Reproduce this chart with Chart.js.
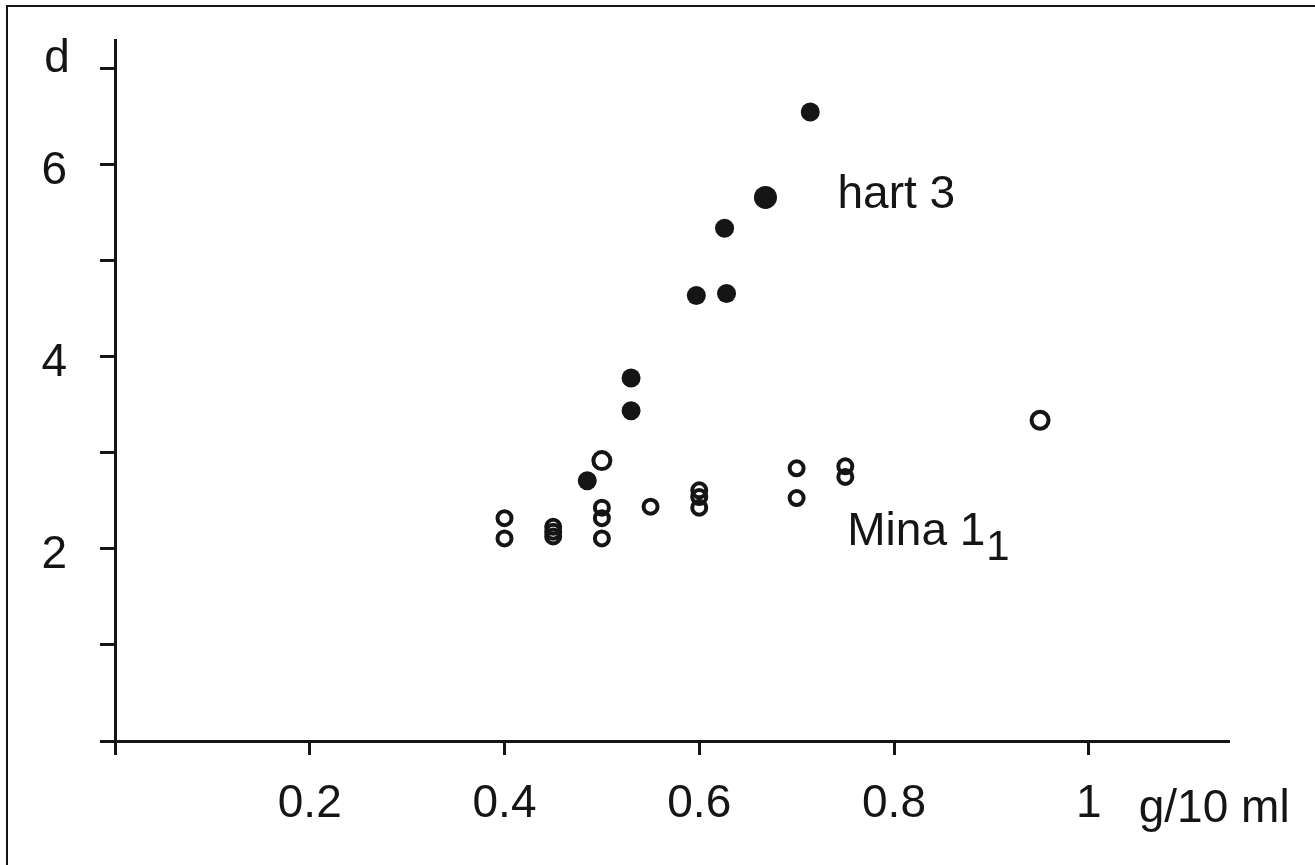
<!DOCTYPE html>
<html>
<head>
<meta charset="utf-8">
<script src="https://cdn.jsdelivr.net/npm/chart.js@4"></script>
<style>
  html, body { margin: 0; padding: 0; background: #fff; }
  #wrap { width: 1315px; height: 865px; position: relative; }
</style>
</head>
<body>
<div id="wrap"><canvas id="chart" width="1315" height="865"></canvas></div>
<script>
// ==================== DATA ====================
// hart 3 (filled circles)
const hartX = [0.485, 0.53, 0.53, 0.597, 0.628, 0.626, 0.668, 0.714];
const hartY = [2.71, 3.44, 3.78, 4.64, 4.66, 5.34, 5.66, 6.55];

// Mina 1_1 (open circles)
const minaX = [0.40, 0.40, 0.45, 0.45, 0.45, 0.50, 0.50, 0.50, 0.50, 0.55, 0.60, 0.60, 0.60, 0.70, 0.70, 0.75, 0.75, 0.95];
const minaY = [2.32, 2.11, 2.23, 2.18, 2.13, 2.92, 2.43, 2.32, 2.11, 2.44, 2.61, 2.54, 2.43, 2.84, 2.53, 2.86, 2.75, 3.34];

const yTickLabels = ['2', '4', '6'];
const xTickLabels = ['0.2', '0.4', '0.6', '0.8', '1'];

const FONT = '"Liberation Sans", Arial, sans-serif';
const INK = '#151515';

const toPoints = (xs, ys) => xs.map((x, i) => ({ x: x, y: ys[i] }));

// frame + free text labels
const annotations = {
  id: 'annotations',
  afterDraw(chart) {
    const { ctx, scales: { x, y } } = chart;
    ctx.save();
    // scanned page frame (left + top)
    ctx.strokeStyle = INK;
    ctx.lineWidth = 2;
    ctx.beginPath();
    ctx.moveTo(7, 865);
    ctx.lineTo(7, 6);
    ctx.lineTo(1315, 6);
    ctx.stroke();

    ctx.fillStyle = INK;
    ctx.font = '46px ' + FONT;
    ctx.textBaseline = 'alphabetic';
    ctx.textAlign = 'left';
    ctx.fillText('hart 3', x.getPixelForValue(0.742), y.getPixelForValue(5.55));
    const mx = x.getPixelForValue(0.752), my = y.getPixelForValue(2.04);
    ctx.fillText('Mina 1', mx, my);
    const w = ctx.measureText('Mina 1').width;
    ctx.font = '42px ' + FONT;
    ctx.fillText('1', mx + w + 1, my + 15);

    // axis titles
    ctx.font = '46px ' + FONT;
    ctx.textAlign = 'center';
    ctx.fillText('d', 57, 72);
    ctx.textAlign = 'left';
    ctx.fillText('g/10 ml', x.getPixelForValue(1) + 50, 822);
    ctx.restore();
  }
};

new Chart(document.getElementById('chart'), {
  type: 'scatter',
  data: {
    datasets: [
      {
        label: 'hart 3',
        data: toPoints(hartX, hartY),
        pointBackgroundColor: INK,
        pointBorderColor: INK,
        pointBorderWidth: 0,
        pointRadius: ctx => ctx.dataIndex === 6 ? 11.5 : 9.5
      },
      {
        label: 'Mina 1_1',
        data: toPoints(minaX, minaY),
        pointBackgroundColor: 'rgba(255,255,255,0)',
        pointBorderColor: INK,
        pointBorderWidth: 4,
        pointRadius: ctx => (ctx.dataIndex === 5 || ctx.dataIndex === 17) ? 8.5 : 7
      }
    ]
  },
  options: {
    responsive: false,
    animation: false,
    layout: { padding: { left: 0, top: 40, right: 87, bottom: 0 } },
    plugins: {
      legend: { display: false },
      tooltip: { enabled: false }
    },
    scales: {
      x: {
        type: 'linear',
        min: 0,
        max: 1.143,
        afterFit: s => { s.height = 124; },
        border: { display: true, width: 3, color: INK },
        grid: { drawOnChartArea: false, drawTicks: true, tickLength: 14, lineWidth: 3, color: INK },
        ticks: {
          stepSize: 0.2,
          includeBounds: false,
          padding: 22,
          color: INK,
          font: { family: FONT, size: 46 },
          callback: (v, i) => i === 0 ? '' : (xTickLabels[i - 1] || '')
        }
      },
      y: {
        type: 'linear',
        min: 0,
        max: 7.3,
        afterFit: s => { s.width = 115; s.paddingTop = 0; s.paddingBottom = 0; },
        border: { display: true, width: 3, color: INK },
        grid: { drawOnChartArea: false, drawTicks: true, tickLength: 15, lineWidth: 3, color: INK },
        ticks: {
          stepSize: 1,
          includeBounds: false,
          padding: 33,
          labelOffset: 6,
          color: INK,
          font: { family: FONT, size: 46 },
          callback: v => (v % 2 === 0 && v > 0) ? (yTickLabels[v / 2 - 1] || '') : ''
        }
      }
    }
  },
  plugins: [annotations]
});
</script>
</body>
</html>
